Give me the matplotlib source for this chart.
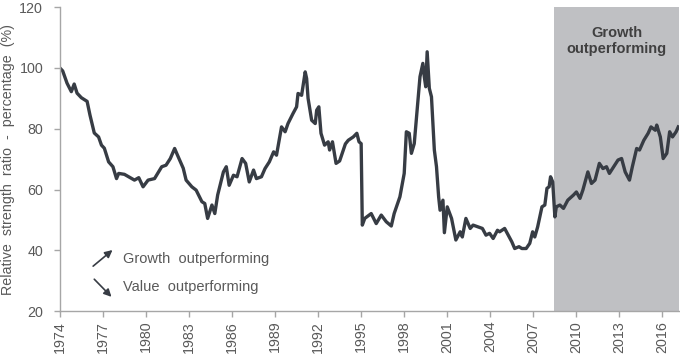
import matplotlib
matplotlib.use("Agg")
import matplotlib.pyplot as plt

plt.rcParams['font.family'] = ['Liberation Sans', 'DejaVu Sans']

years = [1974.0, 1974.2, 1974.5, 1974.8, 1975.0, 1975.2, 1975.5, 1975.9, 1976.1, 1976.4,
         1976.7, 1976.9, 1977.1, 1977.4, 1977.7, 1977.95, 1978.1, 1978.5, 1979.2, 1979.5,
         1979.8, 1980.15, 1980.6, 1981.1, 1981.4, 1981.7, 1982.0, 1982.2, 1982.6, 1982.8,
         1983.2, 1983.5, 1983.9, 1984.1, 1984.3, 1984.6, 1984.8, 1985.0, 1985.4, 1985.6,
         1985.8, 1986.1, 1986.35, 1986.7, 1986.95, 1987.2, 1987.5, 1987.7, 1988.05, 1988.3,
         1988.6, 1988.9, 1989.1, 1989.45, 1989.7, 1989.9, 1990.25, 1990.5, 1990.6, 1990.85,
         1991.1, 1991.2, 1991.3, 1991.55, 1991.8, 1991.9, 1992.05, 1992.2, 1992.45, 1992.7,
         1992.8, 1993.0, 1993.25, 1993.5, 1993.9, 1994.1, 1994.45, 1994.7, 1994.85, 1995.0,
         1995.08, 1995.25, 1995.7, 1996.05, 1996.4, 1996.75, 1997.1, 1997.3, 1997.7, 1998.0,
         1998.15, 1998.35, 1998.5, 1998.7, 1999.1, 1999.3, 1999.4, 1999.5, 1999.6, 1999.75,
         1999.9, 2000.1, 2000.25, 2000.4, 2000.5, 2000.7, 2000.8, 2001.0, 2001.3, 2001.6,
         2001.9, 2002.05, 2002.3, 2002.6, 2002.8, 2003.15, 2003.45, 2003.7, 2003.95, 2004.2,
         2004.5, 2004.65, 2005.0, 2005.25, 2005.5, 2005.7, 2006.0, 2006.2, 2006.5, 2006.75,
         2006.95, 2007.1, 2007.3, 2007.45, 2007.6, 2007.8, 2007.95, 2008.1, 2008.2, 2008.35,
         2008.5, 2008.6, 2008.85, 2009.1, 2009.4, 2009.8, 2010.0, 2010.25, 2010.45, 2010.8,
         2011.05, 2011.3, 2011.6, 2011.85, 2012.1, 2012.3, 2012.6, 2012.9, 2013.15, 2013.4,
         2013.7, 2013.9, 2014.2, 2014.4, 2014.7, 2015.0, 2015.2, 2015.5, 2015.6, 2015.85,
         2016.05, 2016.3, 2016.5, 2016.7, 2016.95, 2017.1]

ratio = [100.0, 99.0, 95.0, 92.2, 94.7, 91.7, 90.2, 89.0, 84.5, 78.6,
         77.3, 74.6, 73.6, 69.1, 67.5, 63.6, 65.3, 65.0, 63.1, 63.9,
         60.9, 63.1, 63.6, 67.5, 68.0, 70.2, 73.5, 71.3, 67.0, 63.1,
         60.9, 59.8, 56.0, 55.4, 50.5, 54.9, 52.1, 58.2, 65.8, 67.5,
         61.4, 64.7, 64.2, 70.2, 68.6, 62.5, 66.4, 63.6, 64.2, 66.9,
         69.1, 72.4, 71.3, 80.6, 79.0, 81.7, 85.0, 87.2, 91.6, 91.0,
         98.7, 96.5, 90.0, 82.8, 81.7, 86.1, 87.2, 78.5, 74.6, 75.7,
         73.0, 75.7, 68.6, 69.4, 75.0, 76.2, 77.3, 78.5, 75.7, 75.1,
         48.3, 50.5, 52.1, 48.8, 51.6, 49.4, 48.0, 52.1, 57.6, 65.3,
         79.0, 78.5, 71.9, 75.1, 97.1, 101.5, 97.1, 93.8, 105.3, 93.3,
         90.5, 73.0, 67.5, 57.6, 53.2, 56.5, 45.8, 54.3, 50.5, 43.4,
         46.1, 44.4, 50.5, 47.2, 48.3, 47.7, 47.2, 45.0, 45.6, 43.9,
         46.6, 46.1, 47.2, 45.0, 42.8, 40.6, 41.2, 40.6, 40.6, 42.3,
         46.1, 44.4, 47.7, 51.0, 54.3, 54.9, 60.4, 60.9, 64.2, 62.5,
         51.0, 54.3, 54.9, 53.8, 56.5, 58.2, 59.2, 57.1, 59.8, 65.8,
         62.0, 63.1, 68.6, 66.9, 67.5, 65.3, 67.5, 69.7, 70.2, 65.8,
         63.1, 67.5, 73.5, 73.0, 76.2, 78.5, 80.6, 79.5, 81.2, 77.3,
         70.2, 71.9, 79.0, 77.3, 79.0, 80.6]

tick_years = [1974, 1977, 1980, 1983, 1986, 1989, 1992, 1995, 1998, 2001,
              2004, 2007, 2010, 2013, 2016]
y_ticks = [20, 40, 60, 80, 100, 120]
shade_start = 2008.43
shade_end = 2017.15

fig = plt.figure(figsize=(6.8, 3.56), dpi=100)
ax = fig.add_axes([0.088, 0.126, 0.9105, 0.854])

ax.axvspan(shade_start, shade_end, color='#bfc0c3', lw=0, zorder=0)
ax.plot(years, ratio, color='#373c44', lw=2.4, solid_joinstyle='round', zorder=2)

ax.set_xlim(1974, shade_end)
ax.set_ylim(20, 120)
ax.set_xticks(tick_years)
ax.set_xticklabels([str(t) for t in tick_years], rotation=90)
ax.set_yticks(y_ticks)

grey = '#595959'
for s in ['top', 'right']:
    ax.spines[s].set_visible(False)
for s in ['left', 'bottom']:
    ax.spines[s].set_color('#a6a6a6')
    ax.spines[s].set_linewidth(1.0)
ax.tick_params(axis='both', colors='#a6a6a6', labelcolor=grey, labelsize=10.3,
               length=4, width=1.0, direction='out')
ax.tick_params(axis='x', pad=3)
ax.tick_params(axis='y', pad=8)

ax.set_ylabel('Relative  strength  ratio  -  percentage  (%)', color=grey, fontsize=10.3,
              labelpad=3)

ax.text(2012.8, 108.8, 'Growth\noutperforming', ha='center', va='center',
        fontsize=10.5, fontweight='bold', color='#404040', linespacing=1.15)

ax.annotate('', xy=(1977.67, 40.1), xytext=(1976.32, 34.8),
            arrowprops=dict(arrowstyle='-|>', color='#373c44', lw=1.2,
                            mutation_scale=11, shrinkA=0, shrinkB=0))
ax.annotate('', xy=(1977.6, 24.7), xytext=(1976.4, 30.5),
            arrowprops=dict(arrowstyle='-|>', color='#373c44', lw=1.2,
                            mutation_scale=11, shrinkA=0, shrinkB=0))
ax.text(1978.37, 37.1, 'Growth  outperforming', ha='left', va='center',
        fontsize=10.5, color=grey)
ax.text(1978.37, 27.8, 'Value  outperforming', ha='left', va='center',
        fontsize=10.5, color=grey)

fig.savefig('out.png', dpi=100)
